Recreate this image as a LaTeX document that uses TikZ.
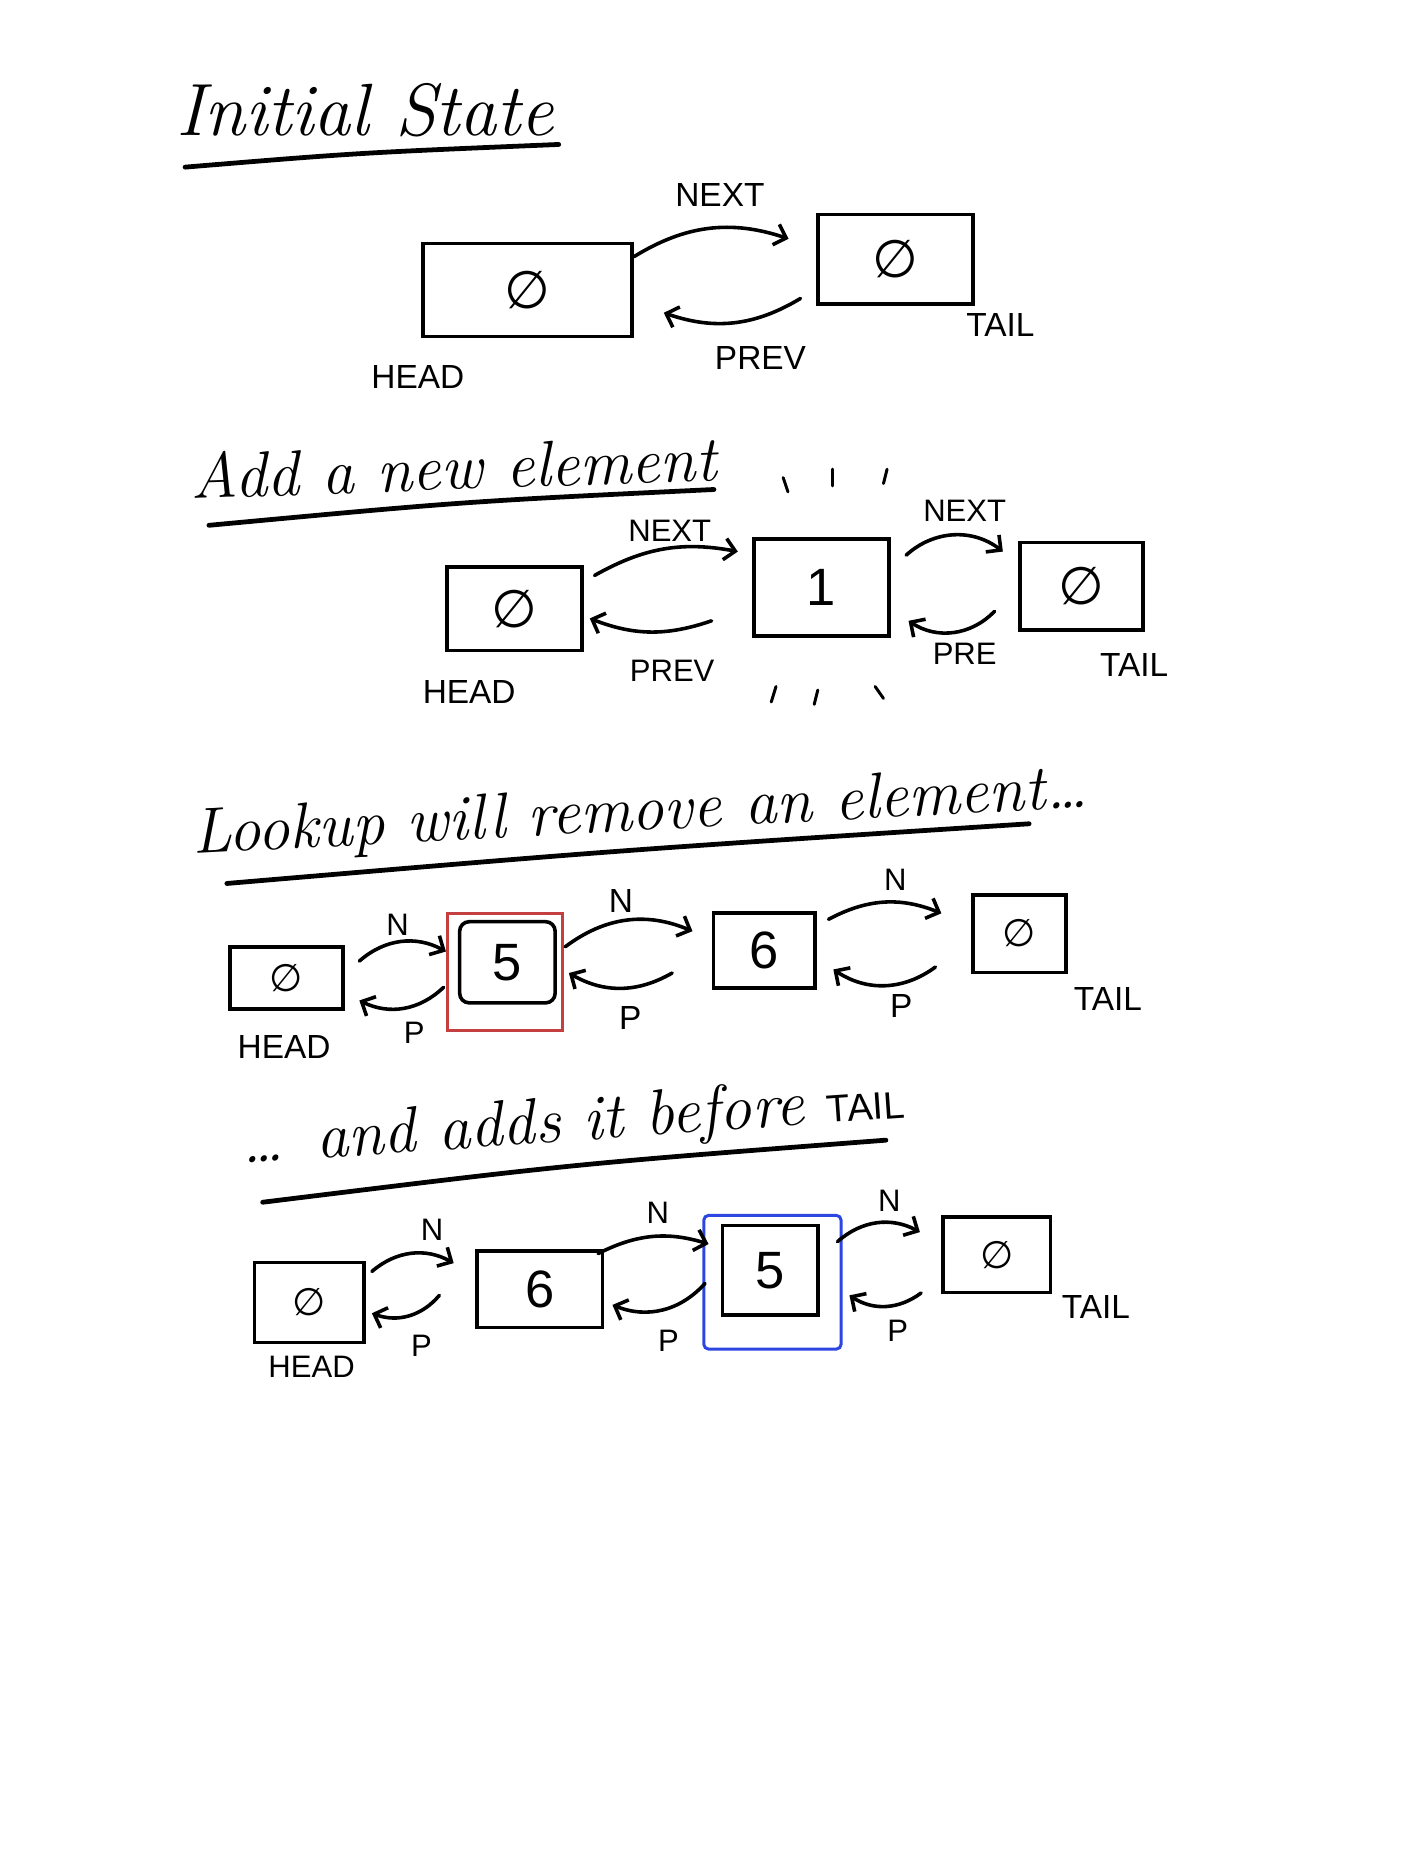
\documentclass[tikz,border=0pt]{standalone}
\usepackage{fontspec}
\setsansfont{Liberation Sans}
\newfontfamily\simbolo{DejaVu Sans}
\usetikzlibrary{arrows.meta}
\definecolor{rojo}{RGB}{196,64,64}
\definecolor{azul}{RGB}{45,70,225}
\newcommand{\vacio}{{\simbolo ∅}}

\begin{document}
\begin{tikzpicture}[x=1pt,y=1pt,
    caja/.style={draw, line width=3pt, inner sep=0pt},
    valor/.style={font=\sffamily\fontsize{44}{48}\selectfont},
    valorch/.style={font=\sffamily\fontsize{32}{36}\selectfont},
    etiq/.style={font=\sffamily\fontsize{28}{30}\selectfont},
    letra/.style={font=\sffamily\fontsize{26}{28}\selectfont},
    titulo/.style={font=\itshape\fontsize{54}{58}\selectfont},
    subraya/.style={line width=4pt, line cap=round},
    flecha/.style={line width=3pt, line cap=round, -{Straight Barb[length=9pt,width=18pt]}},
    marca/.style={line width=2.5pt, line cap=round}]
    \useasboundingbox (0,0) rectangle (1176,-1568);
    % Estado inicial
    \node[titulo, font=\itshape\fontsize{62}{66}\selectfont] (tit1) at (306,-92) {Initial State};
    \draw[subraya] (155,-140) .. controls (300,-128) .. (468,-121);
    \node[caja, valor, minimum width=175pt, minimum height=78pt] (cab1) at (442,-243) {\vacio};
    \node[caja, valor, minimum width=130pt, minimum height=75pt] (cola1) at (750,-217) {\vacio};
    \draw[flecha] ([yshift=28pt]cab1.east) to[bend left=25] ([xshift=-23pt,yshift=17pt]cola1.west);
    \draw[flecha] ([xshift=-13pt,yshift=-33pt]cola1.west) to[bend left=25] ([xshift=25pt,yshift=-19pt]cab1.east);
    \node[etiq] (sig1) at (603,-163) {NEXT};
    \node[etiq] (ant1) at (637,-300) {PREV};
    \node[etiq] (tcab1) at (350,-316) {HEAD};
    \node[etiq] (tcola1) at (838,-272) {TAIL};
    % Nuevo elemento
    \node[titulo, rotate=2] (tit2) at (380,-391) {Add a new element};
    \draw[subraya] (175,-440) .. controls (390,-420) .. (598,-410);
    \node[caja, valor, minimum width=113pt, minimum height=70pt] (cab2) at (431,-510) {\vacio};
    \node[caja, valor, minimum width=113pt, minimum height=81pt] (nodo2) at (688,-492) {1};
    \node[caja, valor, minimum width=103pt, minimum height=73pt] (cola2) at (906,-491) {\vacio};
    \draw[flecha] ([xshift=9pt,yshift=28pt]cab2.east) to[bend left=20] ([xshift=-12pt,yshift=30pt]nodo2.west);
    \draw[flecha] ([xshift=-34pt,yshift=-28pt]nodo2.west) to[bend left=20] ([xshift=5pt,yshift=-8pt]cab2.east);
    \draw[flecha] ([xshift=13pt,yshift=27pt]nodo2.east) to[bend left=40] ([xshift=-13pt,yshift=29pt]cola2.west);
    \draw[flecha] ([xshift=-20pt,yshift=-21pt]cola2.west) to[bend left=40] ([xshift=15pt,yshift=-28pt]nodo2.east);
    \node[letra] (sig2a) at (561,-445) {NEXT};
    \node[letra] (ant2a) at (563,-562) {PREV};
    \node[letra] (sig2b) at (808,-428) {NEXT};
    \node[letra] (ant2b) at (808,-548) {PRE};
    \node[etiq] (tcab2) at (393,-580) {HEAD};
    \node[etiq] (tcola2) at (950,-557) {TAIL};
    \draw[marca] (656,-400) -- (660,-412);
    \draw[marca] (697,-393) -- (697,-407);
    \draw[marca] (743,-393) -- (740,-405);
    \draw[marca] (650,-575) -- (646,-588);
    \draw[marca] (685,-578) -- (682,-590);
    \draw[marca] (733,-575) -- (740,-585);
    % Busqueda: quita un elemento
    \node[titulo, rotate=3] (tit3) at (536,-682) {Lookup will remove an element\dots};
    \draw[subraya] (190,-740) .. controls (520,-712) .. (862,-690);
    \node[caja, valorch, minimum width=95pt, minimum height=52pt] (cab3) at (240,-819) {\vacio};
    \node[caja, valor, rounded corners=8pt, minimum width=80pt, minimum height=68pt] (nodo3a) at (425,-806) {5};
    \node[draw=rojo, line width=2.5pt, minimum width=97pt, minimum height=98pt] (marco3) at (423,-814) {};
    \node[caja, valor, minimum width=85pt, minimum height=63pt] (nodo3b) at (640,-796) {6};
    \node[caja, valorch, minimum width=78pt, minimum height=65pt] (cola3) at (854,-782) {\vacio};
    \draw[flecha] ([xshift=12pt,yshift=14pt]cab3.east) to[bend left=35] ([xshift=-10pt,yshift=9pt]nodo3a.west);
    \draw[flecha] ([xshift=-12pt,yshift=-21pt]nodo3a.west) to[bend left=35] ([xshift=12pt,yshift=-19pt]cab3.east);
    \draw[flecha] ([xshift=7pt,yshift=13pt]nodo3a.east) to[bend left=30] ([xshift=-16pt,yshift=16pt]nodo3b.west);
    \draw[flecha] ([xshift=-33pt,yshift=-19pt]nodo3b.west) to[bend left=30] ([xshift=10pt,yshift=-9pt]nodo3a.east);
    \draw[flecha] ([xshift=10pt,yshift=26pt]nodo3b.east) to[bend left=25] ([xshift=-25pt,yshift=17pt]cola3.west);
    \draw[flecha] ([xshift=-30pt,yshift=-28pt]cola3.west) to[bend left=35] ([xshift=14pt,yshift=-16pt]nodo3b.east);
    \node[letra] (sig3a) at (333,-775) {N};
    \node[letra] (ant3a) at (347,-865) {P};
    \node[etiq] (sig3b) at (520,-755) {N};
    \node[etiq] (ant3b) at (528,-853) {P};
    \node[letra] (sig3c) at (750,-737) {N};
    \node[etiq] (ant3c) at (755,-843) {P};
    \node[etiq] (tcab3) at (238,-877) {HEAD};
    \node[etiq] (tcola3) at (928,-837) {TAIL};
    % ... y lo agrega antes de la cola
    \node[titulo, rotate=4] (tit4) at (480,-942) {\dots\enspace and adds it before {\sffamily\upshape\fontsize{32}{34}\selectfont TAIL}};
    \draw[subraya] (220,-1007) .. controls (480,-975) .. (742,-955);
    \node[caja, valorch, minimum width=92pt, minimum height=67pt] (cab4) at (259,-1091) {\vacio};
    \node[caja, valor, minimum width=105pt, minimum height=64pt] (nodo4a) at (452,-1080) {6};
    \node[caja, valor, minimum width=80pt, minimum height=75pt] (nodo4b) at (645,-1064) {5};
    \node[draw=azul, line width=2.5pt, rounded corners=4pt, minimum width=115pt, minimum height=112pt] (marco4) at (647,-1074) {};
    \node[caja, valorch, minimum width=90pt, minimum height=63pt] (cola4) at (835,-1051) {\vacio};
    \draw[flecha] ([xshift=5pt,yshift=26pt]cab4.east) to[bend left=35] ([xshift=-18pt,yshift=22pt]nodo4a.west);
    \draw[flecha] ([xshift=-30pt,yshift=-5pt]nodo4a.west) to[bend left=35] ([xshift=5pt,yshift=-9pt]cab4.east);
    \draw[flecha] ([xshift=-5pt,yshift=30pt]nodo4a.east) to[bend left=22] ([xshift=-10pt,yshift=22pt]nodo4b.west);
    \draw[flecha] ([xshift=-13pt,yshift=-11pt]nodo4b.west) to[bend left=35] ([xshift=7pt,yshift=-13pt]nodo4a.east);
    \draw[flecha] ([xshift=15pt,yshift=24pt]nodo4b.east) to[bend left=35] ([xshift=-18pt,yshift=19pt]cola4.west);
    \draw[flecha] ([xshift=-17pt,yshift=-32pt]cola4.west) to[bend left=35] ([xshift=25pt,yshift=-21pt]nodo4b.east);
    \node[letra] (sig4a) at (362,-1030) {N};
    \node[letra] (ant4a) at (353,-1127) {P};
    \node[letra] (sig4b) at (551,-1016) {N};
    \node[letra] (ant4b) at (560,-1123) {P};
    \node[letra] (sig4c) at (745,-1006) {N};
    \node[letra] (ant4c) at (752,-1115) {P};
    \node[letra] (tcab4) at (261,-1145) {HEAD};
    \node[etiq] (tcola4) at (918,-1095) {TAIL};
\end{tikzpicture}
\end{document}
